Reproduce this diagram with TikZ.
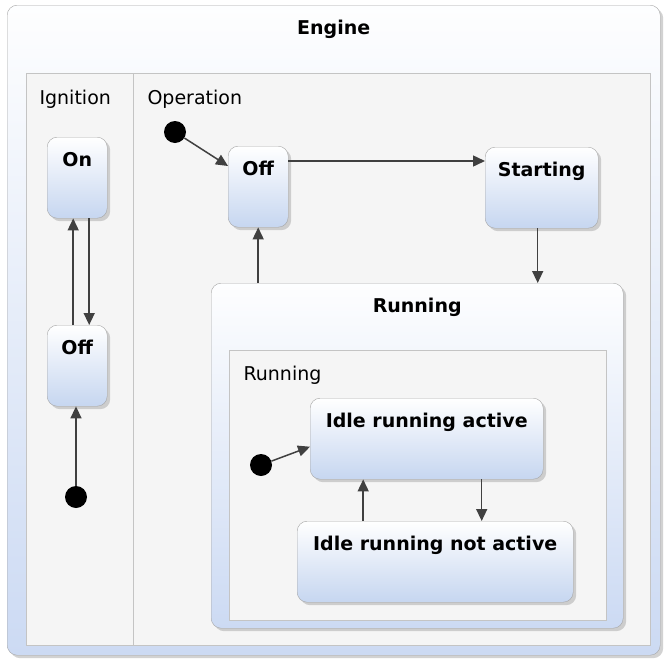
\documentclass[tikz,border=0pt]{standalone}
\usepackage{fontspec}
\setmainfont{DejaVu Sans}
\usetikzlibrary{arrows.meta, shadows}
\definecolor{trgray}{RGB}{64,64,64}
\definecolor{stblue}{RGB}{198,214,240}
\definecolor{cpblue}{RGB}{204,218,243}
\definecolor{rgfill}{RGB}{245,245,245}
\definecolor{rgline}{RGB}{196,196,196}

\begin{document}
\begin{tikzpicture}[x=1pt, y=-1pt,
  font=\fontsize{19}{23}\selectfont,
  state/.style={draw=gray!70, rounded corners=10pt, top color=white, bottom color=stblue,
                drop shadow={shadow xshift=3pt, shadow yshift=-3pt, fill=gray!70},
                anchor=north west, font=\fontsize{19}{23}\selectfont\bfseries,
                inner ysep=11pt, text height=18pt, text depth=41pt, minimum height=81pt},
  composite/.style={state, top color=white!97!cpblue, bottom color=cpblue},
  region/.style={draw=rgline, fill=rgfill},
  initial/.style={circle, fill=black, inner sep=0pt, minimum size=22pt},
  trans/.style={draw=trgray, line width=1.5pt, -{Triangle[length=12pt, width=11pt]}},
]
\useasboundingbox (0,0) rectangle (665,662);

\node[composite, minimum width=653pt, minimum height=650pt, text depth=610pt] (engine) at (7,5) {Engine};
\draw[region] (26,73) rectangle (650,645);
\draw[rgline] (133,73) -- (133,645);
\node[anchor=base west] (ignLabel) at (36,104) {Ignition};
\node[anchor=base west] (opLabel) at (144,104) {Operation};

% Ignition
\node[state, minimum width=60pt] (ignOn) at (47,137) {On};
\node[state, minimum width=60pt] (ignOff) at (47,325) {Off};
\node[initial] (ignInit) at (76,497) {};

% Operation
\node[initial] (opInit) at (175,132) {};
\node[state, minimum width=60pt] (opOff) at (228,146) {Off};
\node[state, minimum width=113pt] (starting) at (485,147) {Starting};
\node[composite, minimum width=412pt, minimum height=345pt, text depth=305pt] (running) at (211,283) {Running};
\draw[region] (229,350) rectangle (606,620);
\node[anchor=base west] (runLabel) at (240,380) {Running};
\node[initial] (runInit) at (261,465) {};
\node[state, minimum width=233pt] (idleOn) at (310,398) {Idle running active};
\node[state, minimum width=276pt] (idleOff) at (297,521) {Idle running not active};

\coordinate (a1) at ([xshift=-4pt]ignOff.north);
\coordinate (a2) at ([xshift=12pt]ignOn.south);
\coordinate (a3) at ([yshift=-15pt]opOff.north east);
\coordinate (a4) at ([xshift=-4pt]starting.south);
\coordinate (a5) at ([xshift=-72pt]idleOff.north);
\coordinate (a6) at ([xshift=55pt]idleOn.south);

\draw[trans] (a1) -- (a1 |- ignOn.south);
\draw[trans] (a2) -- (a2 |- ignOff.north);
\draw[trans] (ignInit) -- (ignInit |- ignOff.south);
\draw[trans] (opInit) -- ([yshift=-20pt]opOff.north west);
\draw[trans] (a3) -- (a3 -| starting.west);
\draw[trans] (a4) -- (a4 |- running.north);
\draw[trans] (opOff.south |- running.north) -- (opOff.south);
\draw[trans] (runInit) -- ([yshift=-8pt]idleOn.west);
\draw[trans] (a5) -- (a5 |- idleOn.south);
\draw[trans] (a6) -- (a6 |- idleOff.north);
\end{tikzpicture}
\end{document}
